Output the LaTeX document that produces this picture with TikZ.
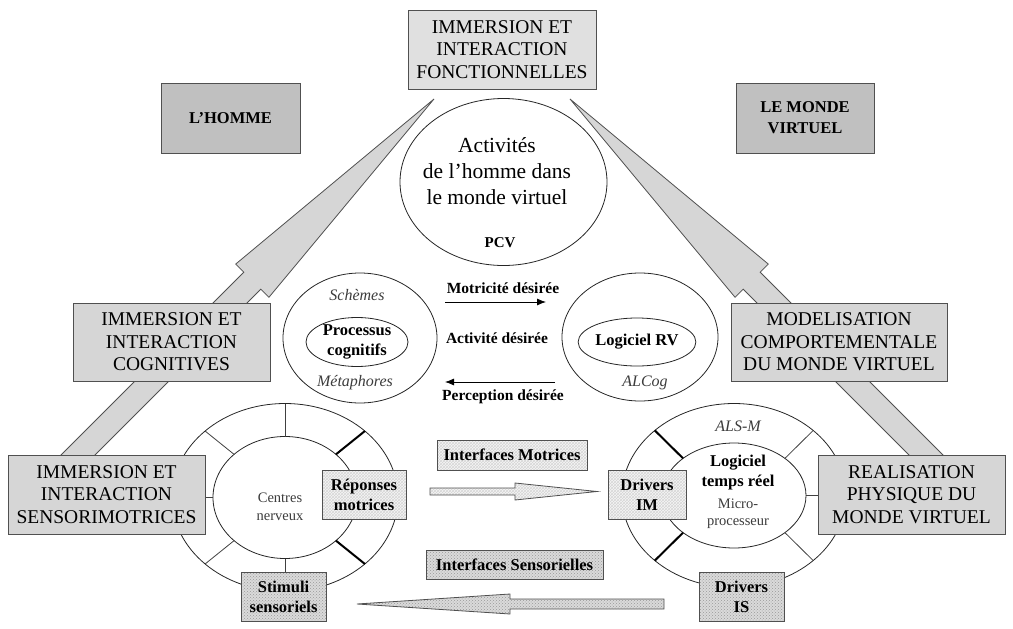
\documentclass[tikz,border=0pt]{standalone}
\usepackage{fontspec}
\setmainfont{Liberation Serif}
\usepackage{tikz}
\usetikzlibrary{shapes.geometric, arrows.meta, calc, patterns}
\definecolor{BoxGray}{RGB}{214,214,214}
\definecolor{BoxLight}{RGB}{224,224,224}
\definecolor{BoxDark}{RGB}{192,192,192}
\definecolor{HatchGray}{RGB}{246,246,246}
\definecolor{DotGray}{RGB}{218,218,218}
\definecolor{LineGray}{RGB}{80,80,80}
\definecolor{TextGray}{RGB}{60,60,60}
\newcommand{\capsfont}{\fontsize{19.5}{22.5}\selectfont}
\newcommand{\headfont}{\fontsize{16.5}{21}\selectfont\bfseries}
\newcommand{\activfont}{\fontsize{21.5}{26}\selectfont}
\newcommand{\labfont}{\fontsize{15.5}{20}\selectfont\bfseries}
\newcommand{\boxfont}{\fontsize{16.5}{20}\selectfont\bfseries}
\newcommand{\notefont}{\fontsize{16}{19}\selectfont\itshape}
\newcommand{\smallfont}{\fontsize{14.5}{17.5}\selectfont}
% block arrow: style, tail, base of head, tip, shaft half width, head half width
\newcommand{\blockarr}[6]{%
  \draw[#1] ($(#2)!#5!90:(#4)$) -- ($(#3)!#5!90:(#4)$) -- ($(#3)!#6!90:(#4)$)
    -- (#4) -- ($(#3)!#6!-90:(#4)$) -- ($(#3)!#5!-90:(#4)$)
    -- ($(#2)!#5!-90:(#4)$) -- cycle;}

\begin{document}
\begin{tikzpicture}[x=1pt, y=-1pt,
    graybox/.style={rectangle, draw=LineGray, fill=BoxGray, line width=0.9pt,
                    font=\capsfont, align=center, inner sep=0pt},
    darkbox/.style={rectangle, draw=LineGray, fill=BoxDark, line width=0.9pt,
                    font=\headfont, align=center, inner sep=0pt},
    hatched/.style={preaction={fill=HatchGray}, pattern=crosshatch,
                    pattern color=black!16},
    dotted/.style={preaction={fill=DotGray}, pattern=crosshatch dots,
                   pattern color=black!40},
    hatchbox/.style={rectangle, draw=LineGray, hatched, line width=0.9pt,
                     font=\boxfont, align=center, inner sep=0pt},
    dotbox/.style={rectangle, draw=LineGray, dotted, line width=0.9pt,
                   font=\boxfont, align=center, inner sep=0pt},
    ring/.style={ellipse, draw=black!85, line width=0.8pt, inner sep=0pt},
    spoke/.style={draw=black!75, line width=0.8pt},
    thickspoke/.style={draw=black, line width=2pt},
    note/.style={font=\notefont, text=TextGray},
    flow/.style={-{Latex[length=9pt, width=7pt]}, line width=0.8pt},
    bigarr/.style={draw=LineGray, fill=BoxGray, line width=0.8pt}
  ]
  \useasboundingbox (0,0) rectangle (1013,629);

  % Big arrows behind the side boxes
  \coordinate (tailL) at (53,480);
  \coordinate (baseL) at (252.3,280.7);
  \coordinate (tipL) at (434,99);
  \coordinate (tailR) at (951,480);
  \coordinate (baseR) at (751.7,280.7);
  \coordinate (tipR) at (570,99);
  \blockarr{bigarr}{tailL}{baseL}{tipL}{12pt}{23.5pt}
  \blockarr{bigarr}{tailR}{baseR}{tipR}{12pt}{23.5pt}

  % Top and corner boxes
  \node[graybox, fill=BoxLight, minimum width=188pt, minimum height=79pt]
        (fonct) at (502,49.5) {IMMERSION ET\\INTERACTION\\FONCTIONNELLES};
  \node[darkbox, minimum width=139pt, minimum height=70pt]
        (homme) at (230.5,118) {L’HOMME};
  \node[darkbox, minimum width=138pt, minimum height=70pt]
        (monde) at (805,118) {LE MONDE\\VIRTUEL};

  % Activities of man
  \node[ring, minimum width=207pt, minimum height=167pt] (activ) at (503.5,182) {};
  \node[font=\activfont, align=center] (activtxt) at (497,171)
        {Activités\\de l’homme dans\\le monde virtuel};
  \node[font=\fontsize{15}{18}\selectfont\bfseries] (pcv) at (500,243) {PCV};

  % Cognitive level
  \node[graybox, minimum width=197pt, minimum height=78pt]
        (cogn) at (171.5,342) {IMMERSION ET\\INTERACTION\\COGNITIVES};
  \node[graybox, minimum width=216pt, minimum height=78pt]
        (model) at (839,342) {MODELISATION\\COMPORTEMENTALE\\DU MONDE VIRTUEL};
  \node[ring, minimum width=154pt, minimum height=130pt] (schem) at (360,338) {};
  \node[ring, minimum width=102pt, minimum height=49pt, font=\boxfont, align=center]
        (procs) at (357,342) {Processus\\cognitifs};
  \node[note] (schtxt) at (357,295) {Schèmes};
  \node[note] (metatxt) at (355,383) {Métaphores};
  \node[ring, minimum width=156pt, minimum height=128pt] (alcog) at (640,337) {};
  \node[ring, minimum width=96pt, minimum height=48pt, font=\boxfont]
        (logrv) at (637,342) {Logiciel RV};
  \node[note] (alcogtxt) at (645,383) {ALCog};

  % Desired flows
  \node[font=\labfont] (motr) at (503,288) {Motricité désirée};
  \node[font=\labfont] (activd) at (497,338) {Activité désirée};
  \node[font=\labfont] (perc) at (503,397) {Perception désirée};
  \coordinate (motA) at (445,302);
  \coordinate (motB) at (546,302);
  \coordinate (percA) at (555,382);
  \coordinate (percB) at (445,382);
  \draw[flow] (motA) -- (motB);
  \draw[flow] (percA) -- (percB);

  % Sensorimotor rings
  \node[ring, minimum width=226pt, minimum height=188pt] (ringL) at (285,497.5) {};
  \node[ring, minimum width=144pt, minimum height=122pt] (nervL) at (285,497.5) {};
  \foreach \a in {0,90,135,180,225,270}
    \draw[spoke] ($(ringL.center)+(\a:72 and 61)$) -- ($(ringL.center)+(\a:113 and 94)$);
  \foreach \a in {45,315}
    \draw[thickspoke] ($(ringL.center)+(\a:72 and 61)$) -- ($(ringL.center)+(\a:113 and 94)$);
  \node[font=\smallfont, text=TextGray, align=center] (nervtxt) at (280,507)
        {Centres\\nerveux};

  \node[ring, minimum width=224pt, minimum height=184pt] (ringR) at (734,495.5) {};
  \node[ring, minimum width=144pt, minimum height=105pt] (procR) at (734,495.5) {};
  \foreach \a in {0,45,180,315}
    \draw[spoke] ($(ringR.center)+(\a:72 and 52.5)$) -- ($(ringR.center)+(\a:112 and 92)$);
  \foreach \a in {135,225}
    \draw[thickspoke] ($(ringR.center)+(\a:72 and 52.5)$) -- ($(ringR.center)+(\a:112 and 92)$);
  \node[note] (alsm) at (738,426) {ALS-M};
  \node[font=\boxfont, align=center] (logtr) at (738,473) {Logiciel\\temps réel};
  \node[font=\smallfont, text=TextGray, align=center] (micro) at (738,513.5)
        {Micro-\\processeur};

  % Side boxes of the lower level
  \node[graybox, minimum width=197pt, minimum height=79pt]
        (senso) at (106.5,494.5) {IMMERSION ET\\INTERACTION\\SENSORIMOTRICES};
  \node[graybox, minimum width=187pt, minimum height=79pt]
        (realis) at (911.5,494.5) {REALISATION\\PHYSIQUE DU\\MONDE VIRTUEL};

  % Interfaces
  \node[hatchbox, minimum width=84pt, minimum height=49pt]
        (repons) at (364,494.5) {Réponses\\motrices};
  \node[dotbox, minimum width=85pt, minimum height=49pt]
        (stimuli) at (283.5,596.5) {Stimuli\\sensoriels};
  \node[hatchbox, minimum width=78pt, minimum height=49pt]
        (drvIM) at (647,494.5) {Drivers\\IM};
  \node[dotbox, minimum width=85pt, minimum height=49pt]
        (drvIS) at (741.5,596.5) {Drivers\\IS};
  \node[hatchbox, minimum width=150pt, minimum height=30pt]
        (intM) at (512,455) {Interfaces Motrices};
  \node[dotbox, minimum width=177pt, minimum height=29pt]
        (intS) at (514.5,564.5) {Interfaces Sensorielles};

  \coordinate (tailM) at (430,491.5);
  \coordinate (baseM) at (515,491.5);
  \coordinate (tipM) at (597,491.5);
  \coordinate (tailS) at (664,604);
  \coordinate (baseS) at (510,604);
  \coordinate (tipS) at (357,604);
  \blockarr{bigarr, fill=none, hatched}{tailM}{baseM}{tipM}{3.5pt}{8.5pt}
  \blockarr{bigarr, fill=none, dotted}{tailS}{baseS}{tipS}{5pt}{10pt}
\end{tikzpicture}
\end{document}
